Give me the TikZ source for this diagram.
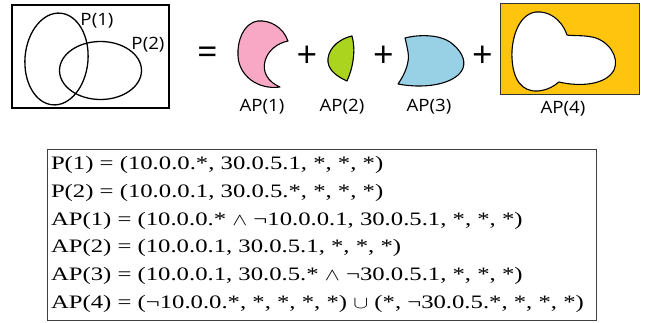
\documentclass[tikz,border=0pt]{standalone}
\usepackage{fontspec}
\setmainfont{Liberation Serif}
\newfontfamily\labelfont{Open Sans}
\definecolor{APpink}{RGB}{248,168,196}
\definecolor{APgreen}{RGB}{170,212,30}
\definecolor{APblue}{RGB}{152,208,230}
\definecolor{APyellow}{RGB}{255,196,14}
\tikzset{venn layout/.style={%
    y=-1pt,%
    x=1pt,%
    every node/.style={%
        inner sep=0pt, outer sep=0pt%
    }%
}}
\tikzset{set label/.style={%
    font=\labelfont\fontsize{17}{20}\selectfont, anchor=base
}}
\tikzset{op sign/.style={%
    font=\labelfont\fontsize{36}{40}\selectfont
}}
\tikzset{region/.style={%
    draw=black, line width=1.1pt, line join=round
}}
\tikzset{formula/.style={%
    font=\fontsize{19}{22}\selectfont, anchor=base west
}}

\begin{document}
\begin{tikzpicture}[venn layout]
    \useasboundingbox (0,0) rectangle (647,323);

    % the two predicates
    \draw[line width=1.4pt] (12,5) rectangle (169,108);
    \draw[line width=1.3pt, rotate around={-5:(56.5,59)}] (56.5,59) ellipse [x radius=31.5, y radius=46];
    \draw[line width=1.3pt] (100.5,70.5) ellipse [x radius=41, y radius=29];
    \node[set label] (p1) at (97,26) {\scalebox{1.1}[1]{P(1)}};
    \node[set label] (p2) at (148,50) {\scalebox{1.1}[1]{P(2)}};

    \node[op sign] (eq) at (207.5,56) {=};

    % atomic predicates
    \draw[region, fill=APpink] (288,41) .. controls (283,27) and (270,20) .. (258,21)
        .. controls (243,23) and (237,42) .. (238,56)
        .. controls (239,76) and (258,90) .. (280,87)
        .. controls (268,82) and (262,72) .. (265,61)
        .. controls (268,50) and (278,43) .. cycle;
    \node[set label] (ap1) at (262,112) {\scalebox{1.1}[1]{AP(1)}};

    \node[op sign] (plus1) at (307,57) {+};

    \draw[region, fill=APgreen] (352,36) .. controls (335,40) and (327,52) .. (328,62)
        .. controls (329,71) and (338,77) .. (347,81)
        .. controls (353,68) and (356,50) .. cycle;
    \node[set label] (ap2) at (342,112) {\scalebox{1.1}[1]{AP(2)}};

    \node[op sign] (plus2) at (383.5,57) {+};

    \draw[region, fill=APblue] (405,38) .. controls (420,34) and (440,35) .. (450,42)
        .. controls (461,50) and (466,60) .. (463,68)
        .. controls (458,82) and (430,90) .. (398,84)
        .. controls (405,74) and (410,62) .. (408,52)
        .. controls (407,46) and (406,42) .. cycle;
    \node[set label] (ap3) at (429,112) {\scalebox{1.1}[1]{AP(3)}};

    \node[op sign] (plus3) at (482.5,57) {+};

    \draw[line width=0.8pt, draw=black!80, fill=APyellow] (500,3) rectangle (639,94);
    \draw[region, fill=white] (567,35) .. controls (561,18) and (548,11) .. (536,12)
        .. controls (518,14) and (511,40) .. (512,58)
        .. controls (513,80) and (522,92) .. (538,91)
        .. controls (549,90) and (555,85) .. (559,82)
        .. controls (580,87) and (606,85) .. (614,70)
        .. controls (620,57) and (608,40) .. (592,37)
        .. controls (582,35) and (572,36) .. cycle;
    \node[set label] (ap4) at (563,114) {\scalebox{1.1}[1]{AP(4)}};

    % definitions
    \draw[line width=0.9pt, draw=black!75] (47,149) rectangle (596,320);
    \foreach \txt [count=\i] in {%
        {P(1) = (10.0.0.*, 30.0.5.1, *, *, *)},%
        {P(2) = (10.0.0.1, 30.0.5.*, *, *, *)},%
        {AP(1) = (10.0.0.* $\wedge$ ¬10.0.0.1, 30.0.5.1, *, *, *)},%
        {AP(2) = (10.0.0.1, 30.0.5.1, *, *, *)},%
        {AP(3) = (10.0.0.1, 30.0.5.* $\wedge$ ¬30.0.5.1, *, *, *)},%
        {AP(4) = (¬10.0.0.*, *, *, *, *) $\cup$ (*, ¬30.0.5.*, *, *, *)}} {
        \node[formula] (def\i) at (51,{141.7+27.8*\i}) {\scalebox{1.3}[1]{\txt}};
    }
\end{tikzpicture}
\end{document}
